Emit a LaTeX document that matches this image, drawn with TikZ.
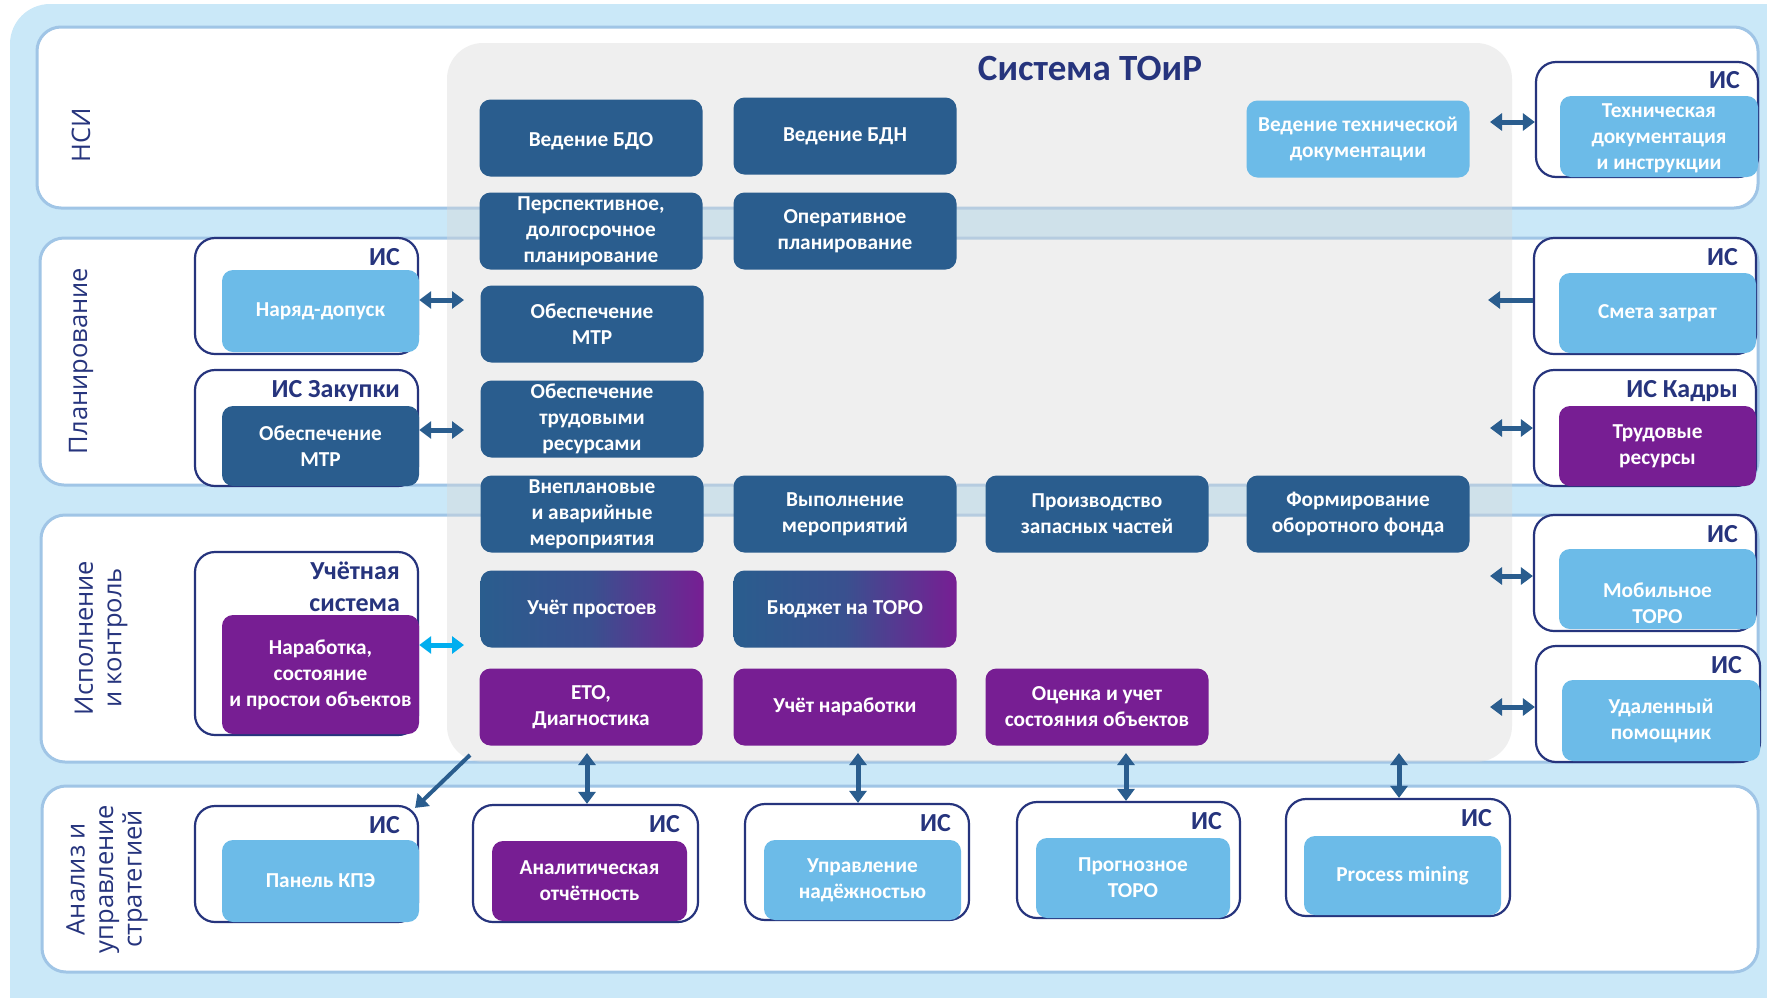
\documentclass[tikz,border=0pt]{standalone}
\usepackage{fontspec}
\setmainfont{Carlito}
\newfontfamily\lanefont{Open Sans}
\usetikzlibrary{arrows.meta}
\definecolor{bgblue}{RGB}{202,232,248}
\definecolor{laneborder}{RGB}{160,197,230}
\definecolor{dblue}{RGB}{42,93,142}
\definecolor{lblue}{RGB}{108,187,232}
\definecolor{purp}{RGB}{119,30,147}
\definecolor{navy}{RGB}{38,52,125}
\definecolor{panelgray}{RGB}{215,215,215}
\definecolor{cyanarr}{RGB}{0,174,239}
\tikzset{
  boxtext/.style={text=white, font=\bfseries\fontsize{21.3}{26}\selectfont, align=center, inner sep=2pt},
  box/.style={boxtext, rounded corners=11pt, minimum width=223pt, minimum height=77pt},
  dbox/.style={box, fill=dblue},
  lbox/.style={box, fill=lblue},
  pbox/.style={box, fill=purp},
  gbox/.style={box, left color=dblue, right color=purp, middle color=dblue!80!purp},
  isouter/.style={draw=navy, line width=2.2pt, fill=white, rounded corners=20pt, inner sep=0pt},
  islab/.style={text=navy, font=\bfseries\fontsize{26}{32}\selectfont, inner sep=1pt, align=right, anchor=north east},
  lane/.style={draw=laneborder, line width=3pt, fill=white, rounded corners=24pt},
  lanelab/.style={text=navy, font=\lanefont\fontsize{25.5}{28.5}\selectfont, rotate=90, align=center},
  arr/.style={draw=dblue, line width=5pt, {Triangle[width=17pt,length=12pt]}-{Triangle[width=17pt,length=12pt]}},
  arrone/.style={draw=dblue, line width=5pt, -{Triangle[width=17pt,length=12pt]}},
  arrc/.style={arr, draw=cyanarr}
}
\begin{document}
\begin{tikzpicture}[x=1pt,y=-1pt]
\useasboundingbox (0,0) rectangle (1767,997);
% background
\fill[bgblue, rounded corners=40pt] (10,4) rectangle (1830,1040);
% lanes
\draw[lane] (37,27) rectangle (1758,208);
\draw[lane] (40,238) rectangle (1758,485);
\draw[lane] (41,515) rectangle (1758,762);
\draw[lane] (42,786) rectangle (1758,972);
% lane labels
\node[lanelab] (l1) at (81,135) {НСИ};
\node[lanelab] (l2) at (81,361) {Планирование};
\node[lanelab] (l3) at (101,638) {Исполнение\\и контроль};
\node[lanelab] (l4) at (107,879) {Анализ и\\управление\\стратегией};
% central panel
\fill[panelgray, fill opacity=0.4, rounded corners=36pt] (447,43) rectangle (1512,762);
\node[text=navy, font=\bfseries\fontsize{37}{42}\selectfont] (title) at (1090,68) {Система ТОиР};
% central boxes
\node[dbox] (bdo) at (591,138) {};
\node[boxtext] (bdot) at ([yshift=-3pt]bdo.center) {Ведение БДО};
\node[dbox] (bdn) at (845,136) {Ведение БДН};
\node[lbox] (techdoc) at (1358,139) {Ведение технической\\документации};
\node[dbox] (persp) at (591,231) {Перспективное,\\долгосрочное\\планирование};
\node[dbox] (oper) at (845,231) {Оперативное\\планирование};
\node[dbox] (mtr) at (592,324) {Обеспечение\\МТР};
\node[dbox] (trud) at (592,419) {Обеспечение\\трудовыми\\ресурсами};
\node[dbox] (vnepl) at (592,514) {Внеплановые\\и аварийные\\мероприятия};
\node[dbox] (vypoln) at (845,514) {Выполнение\\мероприятий};
\node[dbox] (proizv) at (1097,514) {Производство\\запасных частей};
\node[dbox] (formir) at (1358,514) {Формирование\\оборотного фонда};
\node[gbox] (uchprost) at (592,609) {Учёт простоев};
\node[gbox] (budget) at (845,609) {Бюджет на ТОРО};
\node[pbox] (eto) at (591,707) {ЕТО,\\Диагностика};
\node[pbox] (uchnar) at (845,707) {Учёт наработки};
\node[pbox] (ocenka) at (1097,707) {Оценка и учет\\состояния объектов};
% left IS boxes
\node[isouter, minimum width=223pt, minimum height=116pt] (is1) at (306.5,296) {};
\node[islab] (is1l) at ([xshift=-18pt,yshift=-10pt]is1.north east) {ИС};
\node[lbox, minimum width=197pt, minimum height=82pt] (nar) at (320.5,311) {Наряд-допуск};
\node[isouter, minimum width=223pt, minimum height=116pt] (isz) at (306.5,428) {};
\node[islab] (iszl) at ([xshift=-18pt,yshift=-10pt]isz.north east) {ИС Закупки};
\node[dbox, minimum width=197pt, minimum height=80pt] (mtr2) at (320.5,446) {Обеспечение\\МТР};
\node[isouter, minimum width=223pt, minimum height=183pt] (isu) at (306.5,643.5) {};
\node[islab] (isul) at ([xshift=-18pt,yshift=-10pt]isu.north east) {Учётная\\система};
\node[pbox, minimum width=197pt, minimum height=119pt] (narab) at (320.5,674.5) {Наработка,\\состояние\\и простои объектов};
% right IS boxes
\node[isouter, minimum width=222pt, minimum height=115pt] (isr1) at (1647,119.5) {};
\node[islab] (isr1l) at ([xshift=-18pt,yshift=-9pt]isr1.north east) {ИС};
\node[lbox, minimum width=198pt, minimum height=81pt] (techdoc2) at (1659,136.5) {};
\node[boxtext] (techdoc2t) at ([yshift=-2pt]techdoc2.center) {Техническая\\документация\\и инструкции};
\node[isouter, minimum width=222pt, minimum height=116pt] (isr2) at (1645,296) {};
\node[islab] (isr2l) at ([xshift=-18pt,yshift=-10pt]isr2.north east) {ИС};
\node[lbox, minimum width=197pt, minimum height=80pt] (smeta) at (1657.5,313) {Смета затрат};
\node[isouter, minimum width=222pt, minimum height=116pt] (isr3) at (1645,428) {};
\node[islab] (isr3l) at ([xshift=-18pt,yshift=-10pt]isr3.north east) {ИС Кадры};
\node[pbox, minimum width=197pt, minimum height=80pt] (trudres) at (1657.5,446) {Трудовые\\ресурсы};
\node[isouter, minimum width=222pt, minimum height=116pt] (isr4) at (1645,573) {};
\node[islab] (isr4l) at ([xshift=-18pt,yshift=-10pt]isr4.north east) {ИС};
\node[lbox, minimum width=197pt, minimum height=80pt] (mobile) at (1657.5,589) {};
\node[boxtext] (mobilet) at ([yshift=-14pt]mobile.center) {Мобильное\\ТОРО};
\node[isouter, minimum width=224pt, minimum height=116pt] (isr5) at (1648,704) {};
\node[islab] (isr5l) at ([xshift=-18pt,yshift=-10pt]isr5.north east) {ИС};
\node[lbox, minimum width=198pt, minimum height=81pt] (remote) at (1661,720.5) {Удаленный\\помощник};
% bottom IS boxes
\node[isouter, minimum width=223pt, minimum height=116pt] (b1) at (306.5,864) {};
\node[islab] (b1l) at ([xshift=-18pt,yshift=-10pt]b1.north east) {ИС};
\node[lbox, minimum width=197pt, minimum height=82pt] (kpe) at (320.5,881) {Панель КПЭ};
\node[isouter, minimum width=225pt, minimum height=117pt] (b2) at (585.5,863.5) {};
\node[islab] (b2l) at ([xshift=-18pt,yshift=-10pt]b2.north east) {ИС};
\node[pbox, minimum width=195pt, minimum height=80pt] (analit) at (589.5,881) {Аналитическая\\отчётность};
\node[isouter, minimum width=224pt, minimum height=116pt] (b3) at (857,862) {};
\node[islab] (b3l) at ([xshift=-18pt,yshift=-10pt]b3.north east) {ИС};
\node[lbox, minimum width=197pt, minimum height=80pt] (nadezh) at (862.5,880) {Управление\\надёжностью};
\node[isouter, minimum width=223pt, minimum height=116pt] (b4) at (1128.5,860) {};
\node[islab] (b4l) at ([xshift=-18pt,yshift=-10pt]b4.north east) {ИС};
\node[lbox, minimum width=194pt, minimum height=80pt] (prognoz) at (1133,878) {Прогнозное\\ТОРО};
\node[isouter, minimum width=224pt, minimum height=117pt] (b5) at (1398,857.5) {};
\node[islab] (b5l) at ([xshift=-18pt,yshift=-10pt]b5.north east) {ИС};
\node[lbox, minimum width=197pt, minimum height=79pt] (pm) at (1402.5,875.5) {Process mining};
% arrow end coordinates
\coordinate (la1) at (464,300);
\coordinate (la2) at (464,430);
\coordinate (la3) at (464,645);
\coordinate (ra1) at (1490,122);
\coordinate (ra2) at (1488,300);
\coordinate (ra3) at (1490,428);
\coordinate (ra4) at (1490,576);
\coordinate (ra5) at (1490,707);
\coordinate (ba1) at (587,753);
\coordinate (ba2) at (858,753);
\coordinate (ba3) at (1126,753);
\coordinate (ba4) at (1399,753);
\coordinate (da) at (470,755);
% arrows
\draw[arr] (nar.east |- la1) -- (la1);
\draw[arr] (mtr2.east |- la2) -- (la2);
\draw[arrc] (narab.east |- la3) -- (la3);
\draw[arr] (isr1.west |- ra1) -- (ra1);
\draw[arrone] (isr2.west |- ra2) -- (ra2);
\draw[arr] (isr3.west |- ra3) -- (ra3);
\draw[arr] (isr4.west |- ra4) -- (ra4);
\draw[arr] (isr5.west |- ra5) -- (ra5);
\draw[arr] (ba1) -- (ba1 |- b2.north);
\draw[arr] (ba2) -- (ba2 |- b3.north);
\draw[arr] (ba3) -- (ba3 |- b4.north);
\draw[arr] (ba4) -- (ba4 |- b5.north);
\draw[arrone, line width=4pt] (da) -- ([xshift=-4pt,yshift=-3pt]b1.north east);
\end{tikzpicture}
\end{document}
